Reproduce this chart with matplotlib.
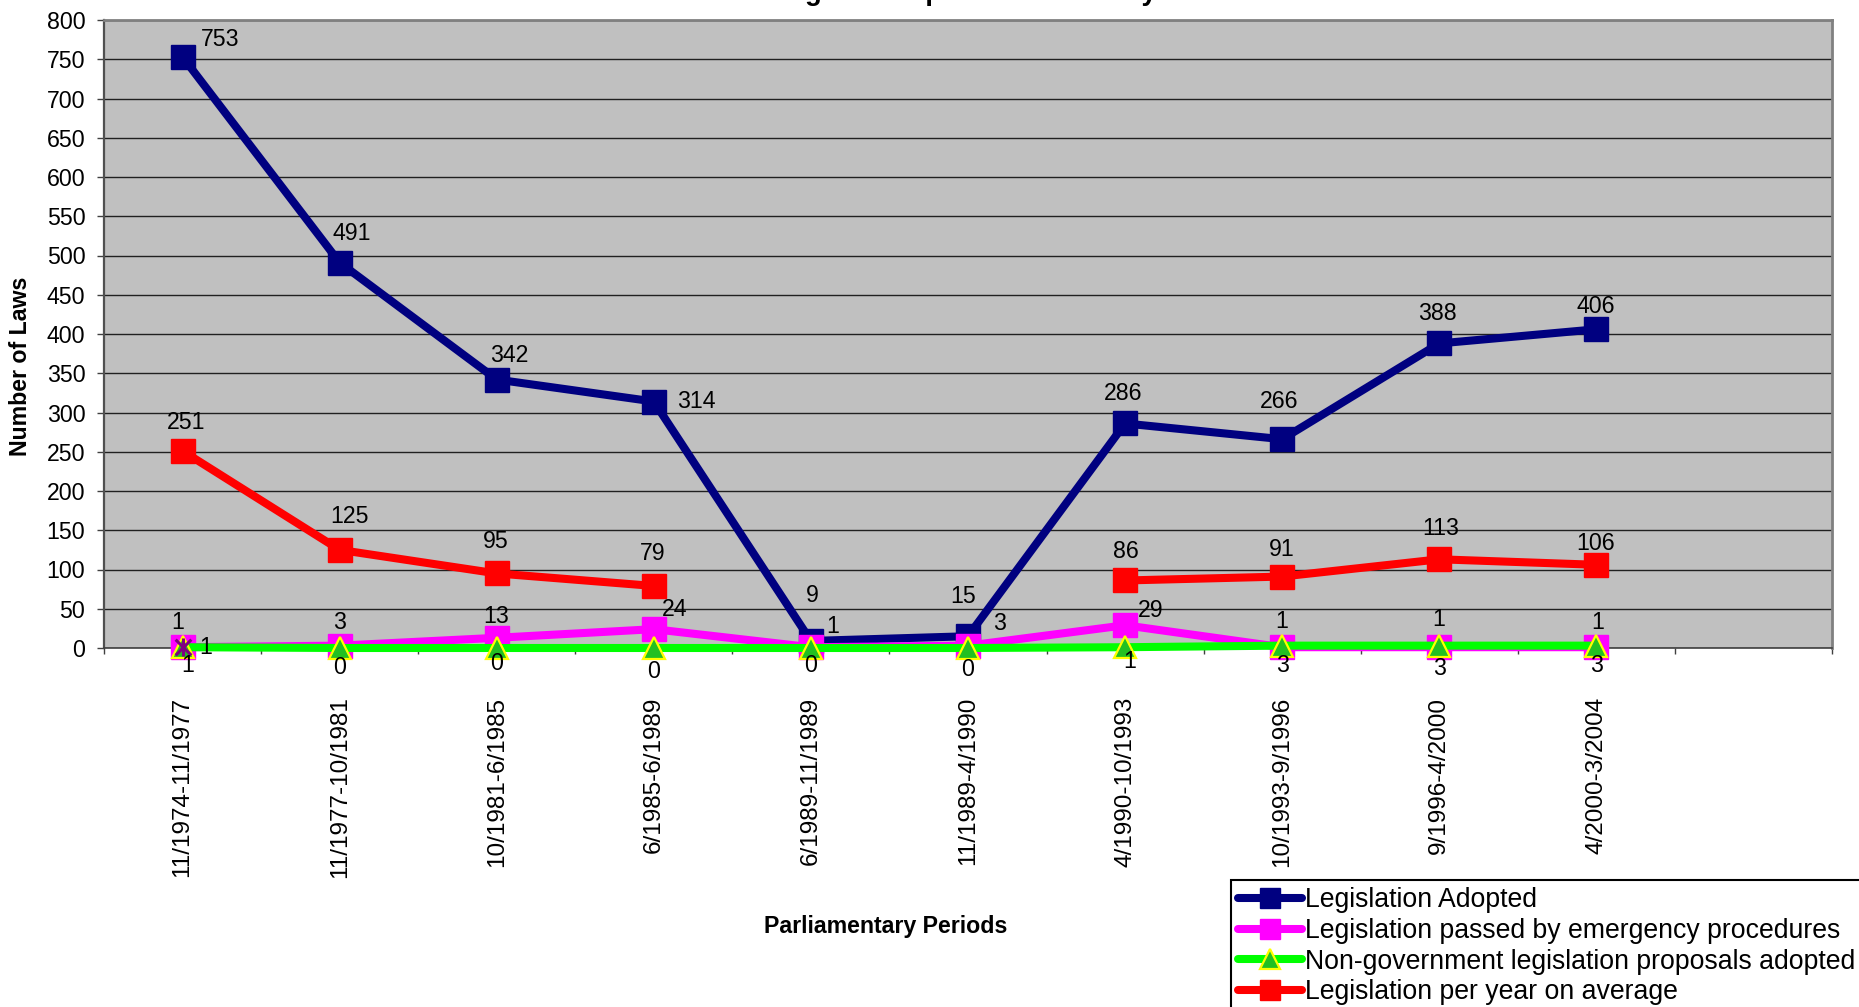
import matplotlib
matplotlib.use("Agg")
import matplotlib.pyplot as plt
import numpy as np
from matplotlib.path import Path

plt.rcParams['font.family'] = ['Liberation Sans', 'DejaVu Sans']

# ---------------- data ----------------
periods = ['11/1974-11/1977', '11/1977-10/1981', '10/1981-6/1985', '6/1985-6/1989',
           '6/1989-11/1989', '11/1989-4/1990', '4/1990-10/1993', '10/1993-9/1996',
           '9/1996-4/2000', '4/2000-3/2004']
adopted = [753, 491, 342, 314, 9, 15, 286, 266, 388, 406]
emergency = [1, 3, 13, 24, 1, 3, 29, 1, 1, 1]
nongov = [1, 0, 0, 0, 0, 0, 1, 3, 3, 3]
per_year = [251, 125, 95, 79, None, None, 86, 91, 113, 106]
extra_series = [1, None, None, None, None, None, None, None, None, None]

series_names = ['Legislation Adopted',
                'Legislation passed by emergency procedures',
                'Non-government legislation proposals adopted',
                'Legislation per year on average']
title_text = 'Legislation per Parliamentary Period'
yticks = list(range(0, 801, 50))

# label offsets (pixels, text centre relative to point)
off_adopted = [(38, 17), (12, 29), (13, 24), (42, 0), (1, 45), (-5, 40), (-2, 30), (-3, 38), (-2, 30), (-1, 23)]
off_per_year = [(4, 28), (10, 33), (-1, 32), (-1, 32), None, None, (1, 29), (0, 27), (1, 31), (-1, 21)]
off_emerg = [(-5, 25), (0, 23), (-1, 21), (21, 20), (22, 21), (31, 22), (26, 15), (0, 26), (-1, 28), (1, 25)]
off_nongov = [(5, -18), (0, -19), (0, -15), (0, -23), (0, -17), (0, -21), (5, -14), (0, -20), (0, -23), (0, -20)]
off_extra = [(23, 0)] + [None] * 9

W, H = 1859, 1007
fig = plt.figure(figsize=(W / 100, H / 100), dpi=100)
L, R, T, B = 104, 1832, 20, 648
ax = fig.add_axes([L / W, 1 - B / H, (R - L) / W, (B - T) / H])
ax.set_facecolor('#C0C0C0')

x = np.arange(len(periods))


def arr(v):
    return np.array([np.nan if a is None else a for a in v], dtype=float)


LW = 5.8
common = dict(lw=LW, solid_capstyle='round', solid_joinstyle='round', clip_on=False)

ax.plot(x, arr(adopted), color='#000080', marker='s', ms=17, mfc='#000080', mec='#000080',
        mew=1, label=series_names[0], zorder=3, **common)
ax.plot(x, arr(emergency), color='#FF00FF', marker='s', ms=17, mfc='#FF00FF', mec='#FF00FF',
        mew=1, label=series_names[1], zorder=4, **common)
ax.plot(x, arr(nongov), color='#00FF00', marker='^', ms=16, mfc='#22C022', mec='#FFFF00',
        mew=1.6, label=series_names[2], zorder=5, **common)
ax.plot(x, arr(per_year), color='#FF0000', marker='s', ms=17, mfc='#FF0000', mec='#FF0000',
        mew=1, label=series_names[3], zorder=6, **common)

star = Path([(-1, -1), (1, 1), (-1, 1), (1, -1), (0, -1.15), (0, 1.15)],
            [Path.MOVETO, Path.LINETO, Path.MOVETO, Path.LINETO, Path.MOVETO, Path.LINETO])
ax.plot(x, arr(extra_series), ls='none', marker=star, ms=13, mec='#800080', mfc='none',
        mew=2.2, zorder=7, clip_on=False)


def labels(vals, offs):
    for i, (v, o) in enumerate(zip(vals, offs)):
        if v is None or o is None:
            continue
        ax.annotate(str(v), (i, v), xytext=o, textcoords='offset pixels',
                    ha='center', va='center', fontsize=16.7, color='black',
                    zorder=10, annotation_clip=False)


labels(adopted, off_adopted)
labels(per_year, off_per_year)
labels(emergency, off_emerg)
labels(nongov, off_nongov)
labels(extra_series, off_extra)

ax.set_xlim(-0.5, 10.5)
ax.set_ylim(0, 800)
ax.set_yticks(yticks)
ax.set_yticklabels([str(t) for t in yticks], fontsize=16.7)
ax.yaxis.grid(True, color='#202020', lw=1.0)
ax.set_axisbelow(True)

ax.set_xticks(x)
ax.set_xticklabels(periods, rotation=90, fontsize=17.5, va='top', ha='center')
ax.set_xticks(np.arange(-0.5, 11, 1), minor=True)
ax.tick_params(axis='x', which='major', length=0, pad=35)
ax.tick_params(axis='x', which='minor', length=4.5, width=1, color='#404040', direction='out')
ax.tick_params(axis='y', length=5, width=1, color='#404040', pad=8.5)

for s in ['top', 'right']:
    ax.spines[s].set_color('#808080')
    ax.spines[s].set_linewidth(2)
ax.spines['left'].set_color('#505050')
ax.spines['left'].set_linewidth(1.6)
ax.spines['bottom'].set_color('#404040')
ax.spines['bottom'].set_linewidth(1.2)

# ---- title (cut off at the top of the image): fit its glyph positions ----
renderer = fig.canvas.get_renderer()


def text_w(s, size):
    t = fig.text(0, 0, s, fontsize=size, fontweight='bold')
    w = t.get_window_extent(renderer).width
    t.remove()
    return w


def centre_of(idx, size):
    return 0.5 * (text_w(title_text[:idx], size) + text_w(title_text[:idx + 1], size))


base_size = 19.7
gi = title_text.index('g')
yi = title_text.index('y')
span = centre_of(yi, base_size) - centre_of(gi, base_size)
title_size = base_size * (1149 - 813) / span
start_x = 813 - centre_of(gi, title_size)
fig.text(start_x / W, 1 - 0.5 / H, title_text, fontsize=title_size,
         fontweight='bold', ha='left', va='baseline')

fig.text(21 / W, 1 - 366 / H, 'Number of Laws', rotation=90, fontsize=16.7,
         fontweight='bold', ha='center', va='center')
fig.text(886 / W, 1 - 926 / H, 'Parliamentary Periods', fontsize=16.7,
         fontweight='bold', ha='center', va='center')

leg = fig.legend(loc='upper left', bbox_to_anchor=(1231 / W, 1 - 880 / H),
                 bbox_transform=fig.transFigure, fontsize=19.2, frameon=True,
                 fancybox=False, edgecolor='black', framealpha=1,
                 handlelength=2.4, handletextpad=0.1, borderpad=0.28,
                 labelspacing=0.17, borderaxespad=0)
leg.get_frame().set_linewidth(1.5)
for h in leg.legend_handles:
    h.set_markersize(14)

fig.savefig('out.png', dpi=100)
